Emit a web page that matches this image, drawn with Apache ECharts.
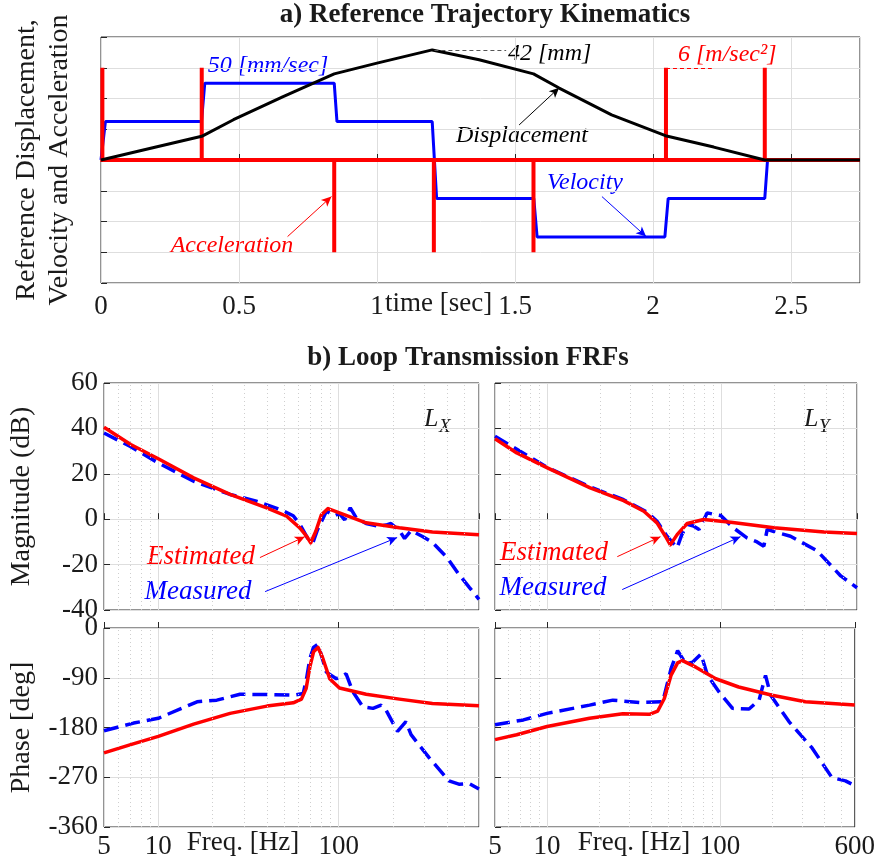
<!DOCTYPE html>
<html>
<head>
<meta charset="utf-8">
<title>Trajectory kinematics and loop transmission FRFs</title>
<script src="https://cdn.jsdelivr.net/npm/echarts@6/dist/echarts.min.js"></script>
<style>
  html, body { margin: 0; padding: 0; background: #fff; }
  #chart { width: 878px; height: 860px; }
</style>
</head>
<body>
<div id="chart"></div>
<script>
// ---------- a) trayectoria de referencia (unidades normalizadas del eje) ----------
const timeTicks = [0, 0.5, 1, 1.5, 2, 2.5];

const velTime  = [0, 0.006, 0.016, 0.364, 0.376, 0.845, 0.855, 1.200, 1.216, 1.568, 1.580, 2.043, 2.055, 2.405, 2.415, 2.75];
const velValue = [0, 0, 1.25, 1.25, 2.5, 2.5, 1.25, 1.25, -1.25, -1.25, -2.5, -2.5, -1.25, -1.25, 0, 0];

const accTime  = [0.005, 0.005, 0.005, 0.365, 0.365, 0.365, 0.845, 0.845, 0.845, 1.206, 1.206, 1.206,
                  1.567, 1.567, 1.567, 2.047, 2.047, 2.047, 2.405, 2.405, 2.405, 2.75];
const accValue = [0, 3, 0, 0, 3, 0, 0, -3, 0, 0, -3, 0, 0, -3, 0, 0, 3, 0, 0, 3, 0, 0];

const dispTime  = [0, 0.18, 0.365, 0.48, 0.66, 0.845, 1.0, 1.2, 1.37, 1.567, 1.66, 1.85, 2.045, 2.22, 2.405, 2.75];
const dispValue = [0, 0.38, 0.77, 1.31, 2.06, 2.8, 3.15, 3.58, 3.26, 2.8, 2.34, 1.47, 0.79, 0.42, 0, 0];

// ---------- b) FRFs de transmision de lazo ----------
const magXFreq = [5, 7.03, 10, 15.7, 25, 39.9, 51.5, 60.9, 66.4, 70, 74.7, 80.3, 87.3, 101, 142, 217, 331, 600];
const magXEst  = [40.5, 32.9, 26.6, 18.2, 10.9, 5.0, 1.3, -3.8, -7.5, -10.4, -5.3, 2.0, 4.7, 2.8, -1.6, -3.8, -5.6, -6.8];
const magXMeasFreq = [5, 7, 10, 15.7, 25, 35, 47.3, 56, 61, 67.8, 72, 76, 85.5, 95, 101, 108, 116, 125, 142,
                      165, 183, 195, 217, 232, 252, 290, 331, 400, 464, 530, 600];
const magXMeas = [38, 32, 24.8, 16.7, 10.9, 7.9, 4.3, 1.5, -2.3, -8.9, -10.3, -5, 3.5, 1.5, 2.5, -0.3, 5, 0.7, -1.9,
                  -3, -2.6, -1.9, -5, -8.5, -5, -7.5, -10.2, -17, -24.3, -30, -35.3];

const magYFreq = [5, 6.67, 10, 17.6, 27.4, 35.8, 42.6, 47.6, 50.8, 55.6, 63.5, 79, 113, 200, 388, 600];
const magYEst  = [35.4, 29.2, 22.6, 13.8, 8.2, 3.5, -1.6, -7.5, -11.3, -6.8, -1.9, -0.1, -1.3, -3.8, -5.6, -6.3];
const magYMeasFreq = [5, 10, 17.6, 27.4, 37.3, 42.6, 48.6, 55.6, 59, 63.5, 69, 74.3, 82.8, 90, 99, 117, 140,
                      160, 175, 183, 200, 249, 355, 484, 600];
const magYMeas = [36.5, 22.8, 14.2, 8.6, 3.2, -0.9, -7.5, -12.6, -7, -2.3, -3, -4.5, 2.8, 2.2, 1.6, -3.8, -8.2,
                  -10, -11.9, -4.5, -5.5, -7.5, -14, -25, -30.2];

const phXFreq = [5, 7.03, 10, 15.7, 25, 40, 56, 62.2, 66, 69.2, 72.6, 76.9, 81.3, 89.2, 101, 142, 217, 331, 600];
const phXEst  = [-225.9, -211, -196.1, -174, -154.4, -141.3, -135.3, -128.7, -109.7, -70.9, -42.9, -35.2, -53,
                 -91.8, -108.5, -119.8, -128.7, -136.5, -140.7];
const phXMeasFreq = [5, 7.3, 10, 16.4, 21.1, 28.4, 40, 56, 63.6, 66.5, 69.2, 72.5, 76.9, 85.5, 97, 110, 120, 136,
                     155, 172, 183, 212, 236, 252, 318, 409, 464, 529, 600];
const phXMeas = [-186, -172, -163.3, -133.5, -130.5, -119.8, -120.4, -121.6, -118.6, -90, -56, -35, -29.2, -79.9,
                 -91.8, -82.8, -115.6, -142.4, -145.4, -139.5, -148.4, -187, -169.3, -193, -234.8, -276.5,
                 -282.5, -281.3, -291.4];

const phYFreq = [5, 6.67, 10, 17.6, 27.4, 39, 43.6, 47.6, 52, 56.8, 60.6, 72.4, 94.4, 128, 200, 311, 600];
const phYEst  = [-202, -193.1, -178.2, -163.3, -155, -156.2, -150.2, -127.5, -85.8, -63.2, -59, -70.9, -91.8,
                 -106.7, -121.6, -133.5, -139.5];
const phYMeasFreq = [5, 7.3, 10, 17.6, 24, 34.2, 46.6, 52, 56.8, 63.5, 69.3, 77.5, 84.6, 98.6, 118, 147, 168,
                     183, 196, 250, 340, 443, 530, 578];
const phYMeas = [-175.2, -166.3, -154.4, -139.5, -130.5, -134.7, -133.5, -74, -41.1, -65, -62, -47.1, -85.8,
                 -115.6, -145.4, -146.6, -130.5, -85.8, -121.6, -169.3, -217, -270.6, -276.5, -282.5];

// lineas de rejilla secundarias (punteadas) del eje logaritmico
const minorFreqs = [6, 7, 8, 9, 20, 30, 40, 50, 60, 70, 80, 90, 200, 300, 400, 500];

const FONT = 'Liberation Serif';
const TXT = '#1a1a1a';
const RED = '#ff0000';
const BLUE = '#0000ff';

const chart = echarts.init(document.getElementById('chart'));

function zip(xs, ys) {
    return xs.map((x, i) => [x, ys[i]]);
}

function arrow(from, to, color) {
    return [
        { coord: from, symbol: 'none', lineStyle: { color: color, width: 1, type: 'solid' } },
        { coord: to, symbol: 'arrow', symbolSize: [7, 10] }
    ];
}

function logAxis(gridIndex, showLabels, showMax) {
    return {
        type: 'log', logBase: 10, gridIndex: gridIndex, min: 5, max: 600,
        axisLine: { show: false },
        axisTick: { show: true, inside: true, length: 6, lineStyle: { color: '#262626' } },
        axisLabel: {
            show: showLabels, showMaxLabel: showMax, margin: 6,
            fontFamily: FONT, fontSize: 27, color: TXT,
            formatter: v => String(Math.round(v))
        },
        splitLine: { show: true, lineStyle: { color: '#dedede', width: 1 } }
    };
}

function valueAxis(gridIndex, min, max, interval, showLabels, name, nameGap) {
    return {
        type: 'value', gridIndex: gridIndex, min: min, max: max, interval: interval,
        name: name || '', nameLocation: 'middle', nameGap: nameGap || 0,
        nameTextStyle: { fontFamily: FONT, fontSize: 28, color: TXT, lineHeight: 33 },
        axisLine: { show: false },
        axisTick: { show: true, inside: true, length: 6, lineStyle: { color: '#262626' } },
        axisLabel: { show: showLabels, margin: 6, fontFamily: FONT, fontSize: 27, color: TXT },
        splitLine: { show: true, lineStyle: { color: '#dedede', width: 1 } }
    };
}

function minorGridSeries(idx) {
    return {
        type: 'line', xAxisIndex: idx, yAxisIndex: idx, data: [], z: 1, silent: true,
        markLine: {
            silent: true, symbol: ['none', 'none'], animation: false,
            label: { show: false },
            lineStyle: { color: '#cfcfcf', width: 1, type: [1, 3] },
            data: minorFreqs.map(f => ({ xAxis: f }))
        }
    };
}

function measSeries(idx, xs, ys, arrows) {
    return {
        name: 'Measured', type: 'line', xAxisIndex: idx, yAxisIndex: idx,
        data: zip(xs, ys), showSymbol: false, z: 3,
        lineStyle: { color: BLUE, width: 3.5, type: [15, 7] },
        markLine: arrows ? { silent: true, animation: false, label: { show: false }, data: arrows } : undefined
    };
}

function estSeries(idx, xs, ys, arrows) {
    return {
        name: 'Estimated', type: 'line', xAxisIndex: idx, yAxisIndex: idx,
        data: zip(xs, ys), showSymbol: false, z: 4,
        lineStyle: { color: RED, width: 3.5, join: 'round' },
        markLine: arrows ? { silent: true, animation: false, label: { show: false }, data: arrows } : undefined
    };
}

function label(text, x, y, color, size, align) {
    return {
        type: 'text', x: x, y: y, silent: true,
        style: {
            text: text, fill: color, align: align || 'center', verticalAlign: 'middle',
            font: 'italic ' + size + 'px "' + FONT + '"'
        }
    };
}

function plain(text, x, y, size, align, weight) {
    return {
        type: 'text', x: x, y: y, silent: true,
        style: {
            text: text, fill: TXT, align: align || 'center', verticalAlign: 'middle',
            font: (weight || 'normal') + ' ' + size + 'px "' + FONT + '"'
        }
    };
}

const gridBox = { show: true, borderColor: '#262626', borderWidth: 1, backgroundColor: 'transparent' };

const option = {
    backgroundColor: '#fff',
    animation: false,
    grid: [
        Object.assign({ left: 101, top: 37, width: 759, height: 246 }, gridBox),
        Object.assign({ left: 104, top: 383, width: 375, height: 227 }, gridBox),
        Object.assign({ left: 495, top: 383, width: 362, height: 227 }, gridBox),
        Object.assign({ left: 104, top: 628, width: 375, height: 200 }, gridBox),
        Object.assign({ left: 495, top: 628, width: 362, height: 200 }, gridBox)
    ],
    xAxis: [
        {
            type: 'value', gridIndex: 0, min: 0, max: 2.75, interval: 0.5,
            axisLine: { show: false },
            axisTick: { show: true, inside: true, length: 6, lineStyle: { color: '#262626' } },
            axisLabel: {
                margin: 10, fontFamily: FONT, fontSize: 27, color: TXT, showMaxLabel: false,
                formatter: v => timeTicks.indexOf(v) >= 0 ? String(v) : ''
            },
            splitLine: { show: true, lineStyle: { color: '#dedede', width: 1 } }
        },
        logAxis(1, false, false),
        logAxis(2, false, false),
        logAxis(3, true, false),
        logAxis(4, true, true)
    ],
    yAxis: [
        valueAxis(0, -4, 4, 1, false, 'Reference Displacement,\nVelocity and Acceleration', 25),
        valueAxis(1, -40, 60, 20, true, 'Magnitude (dB)', 66),
        valueAxis(2, -40, 60, 20, false),
        valueAxis(3, -360, 0, 90, true, 'Phase [deg]', 66),
        valueAxis(4, -360, 0, 90, false)
    ],
    series: [
        {
            name: 'Velocity', type: 'line', xAxisIndex: 0, yAxisIndex: 0,
            data: zip(velTime, velValue), showSymbol: false, z: 2,
            lineStyle: { color: BLUE, width: 3 },
            markLine: {
                silent: true, animation: false, label: { show: false },
                data: [arrow([1.815, -1.19], [1.975, -2.49], BLUE)]
            }
        },
        {
            name: 'Acceleration', type: 'line', xAxisIndex: 0, yAxisIndex: 0,
            data: zip(accTime, accValue), showSymbol: false, z: 3,
            lineStyle: { color: RED, width: 4, join: 'miter' },
            markLine: {
                silent: true, animation: false, label: { show: false },
                data: [
                    arrow([0.676, -2.49], [0.835, -1.19], RED),
                    [
                        { coord: [2.047, 3.0], symbol: 'none', lineStyle: { color: RED, width: 1, type: [4, 3] } },
                        { coord: [2.213, 3.0], symbol: 'none' }
                    ]
                ]
            }
        },
        {
            name: 'Displacement', type: 'line', xAxisIndex: 0, yAxisIndex: 0,
            data: zip(dispTime, dispValue), showSymbol: false, z: 4,
            lineStyle: { color: '#000', width: 3 },
            markLine: {
                silent: true, animation: false, label: { show: false },
                data: [
                    arrow([1.515, 1.14], [1.66, 2.35], '#000'),
                    [
                        { coord: [1.208, 3.56], symbol: 'none', lineStyle: { color: '#555', width: 1, type: [4, 3] } },
                        { coord: [1.468, 3.56], symbol: 'none' }
                    ]
                ]
            }
        },

        minorGridSeries(1),
        measSeries(1, magXMeasFreq, magXMeas, [arrow([39.1, -31.9], [211, -8.1], BLUE)]),
        estSeries(1, magXFreq, magXEst, [arrow([36.6, -16.9], [64.9, -7.7], RED)]),

        minorGridSeries(2),
        measSeries(2, magYMeasFreq, magYMeas, [arrow([26.9, -31], [128.5, -7.7], BLUE)]),
        estSeries(2, magYFreq, magYEst, [arrow([25.2, -16.5], [44.6, -7.7], RED)]),

        minorGridSeries(3),
        measSeries(3, phXMeasFreq, phXMeas),
        estSeries(3, phXFreq, phXEst),

        minorGridSeries(4),
        measSeries(4, phYMeasFreq, phYMeas),
        estSeries(4, phYFreq, phYEst)
    ],
    graphic: [
        plain('a) Reference Trajectory Kinematics', 485, 15, 27, 'center', 'bold'),
        plain('b) Loop Transmission FRFs', 468, 358, 27, 'center', 'bold'),
        plain('time [sec]', 385, 304, 27, 'left'),
        plain('Freq. [Hz]', 243, 843, 27, 'center'),
        plain('Freq. [Hz]', 634, 843, 27, 'center'),

        label('50 [mm/sec]', 268, 66, BLUE, 24),
        label('42 [mm]', 508, 54, '#000', 24, 'left'),
        label('6 [m/sec\u00b2]', 678, 55, RED, 24, 'left'),
        label('Displacement', 522, 136, '#000', 24),
        label('Velocity', 585, 183, BLUE, 24),
        label('Acceleration', 232, 246, RED, 24),

        label('Estimated', 201, 557, RED, 27),
        label('Measured', 198, 592, BLUE, 27),
        label('Estimated', 554, 553, RED, 27),
        label('Measured', 553, 588, BLUE, 27),

        label('L', 424, 419, TXT, 26, 'left'),
        label('X', 439, 427, TXT, 19, 'left'),
        label('L', 804, 419, TXT, 26, 'left'),
        label('Y', 819, 427, TXT, 19, 'left')
    ]
};

chart.setOption(option);
</script>
</body>
</html>
